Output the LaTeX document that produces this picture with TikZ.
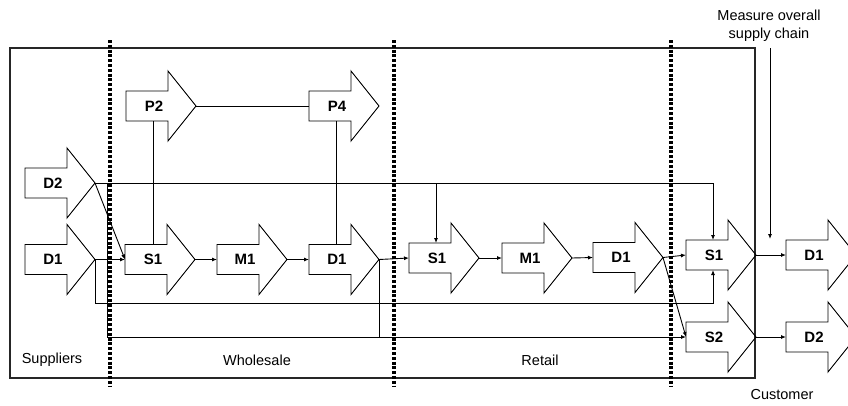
\documentclass[tikz,border=0pt]{standalone}
\usepackage{fontspec}
\setmainfont{Liberation Sans}
\usetikzlibrary{arrows.meta}
\newcommand\blockarrow[4]{%
  \draw[shapeline] (#2,#3-15) -- ++(42,0) -- ++(0,-20) -- ++(28,35) -- ++(-28,35) -- ++(0,-20) -- ++(-42,0) -- cycle;
  \node[lbl] (#1) at (#2+28,#3) {#4};
  \coordinate (#1-in) at (#2,#3);
  \coordinate (#1-tip) at (#2+70,#3);
  \coordinate (#1-top) at (#2+27,#3-15);
  \coordinate (#1-bot) at (#2+27,#3+15);
}
\begin{document}
\begin{tikzpicture}[x=1pt,y=-1pt,
  shapeline/.style={draw=black, line width=0.9pt, line join=miter},
  conn/.style={draw=black, line width=0.9pt},
  arr/.style={conn, -{Latex[length=5pt,width=4pt]}},
  lbl/.style={font=\fontsize{15}{18}\selectfont\bfseries, inner sep=0pt},
  txt/.style={font=\fontsize{14.5}{18}\selectfont, inner sep=0pt, align=center},
  frame/.style={draw=black!85, line width=1.2pt},
  divider/.style={draw=black, line width=3.2pt, dash pattern=on 3pt off 1.8pt}
]
\path[fill=white, use as bounding box] (0,0) rectangle (848,405);

% frame
\draw[frame] (10,48) rectangle (755,378);

% block arrows
\blockarrow{sD2}{25}{183}{D2}
\blockarrow{sD1}{25}{259.5}{D1}
\blockarrow{wP2}{126}{106}{P2}
\blockarrow{wP4}{309}{106}{P4}
\blockarrow{wS1}{125}{259.5}{S1}
\blockarrow{wM1}{217}{259.5}{M1}
\blockarrow{wD1}{309}{259.5}{D1}
\blockarrow{rS1}{409}{258}{S1}
\blockarrow{rM1}{502}{258}{M1}
\blockarrow{rD1}{593}{257.5}{D1}
\blockarrow{cS1}{686}{255}{S1}
\blockarrow{cS2}{686}{337}{S2}
\blockarrow{cD1}{786}{255}{D1}
\blockarrow{cD2}{786}{337}{D2}

% connectors
\draw[arr] (sD1-tip) -- (wS1-in);
\draw[arr] (sD2-tip) -- (wS1-in);
\draw[arr] (sD2-tip) -| (rS1-top);
\draw[arr] (sD2-tip) -| (cS1-top);
\draw[arr] (sD2-tip) -- ++(12,0) |- (cS2-in);
\draw[conn] (wD1-tip) -- (wD1-tip |- cS2-in);
\draw[arr] (sD1-tip) -- ++(0,44) -| (cS1-bot);
\draw[conn] (wP2-bot) -- (wP2-bot |- wS1-top);
\draw[conn] (wP2-tip) -- (wP4-in);
\draw[conn] (wP4-bot) -- (wP4-bot |- wD1-top);
\draw[arr] (wS1-tip) -- (wM1-in);
\draw[arr] (wM1-tip) -- (wD1-in);
\draw[arr] (wD1-tip) -- (rS1-in);
\draw[arr] (rS1-tip) -- (rM1-in);
\draw[arr] (rM1-tip) -- (rD1-in);
\draw[arr] (rD1-tip) -- (cS1-in);
\draw[arr] (rD1-tip) -- (cS2-in);
\draw[arr] (cS1-tip) -- (cD1-in);
\draw[arr] (cS2-tip) -- (cD2-in);

% measure
\node[txt] (msr) at (769,26) {Measure overall\\supply chain};
\coordinate (mtop) at (770,48);
\coordinate (mend) at (770,239);
\draw[arr] (mtop) -- (mend);

% dividers
\draw[divider] (110,40) -- (110,386);
\draw[divider] (394,40) -- (394,386);
\draw[divider] (671,40) -- (671,386);

% labels
\node[txt] (sup) at (52,360) {Suppliers};
\node[txt] (whs) at (257,360) {Wholesale};
\node[txt] (ret) at (540,360) {Retail};
\node[txt] (cus) at (782,394) {Customer};
\end{tikzpicture}
\end{document}
